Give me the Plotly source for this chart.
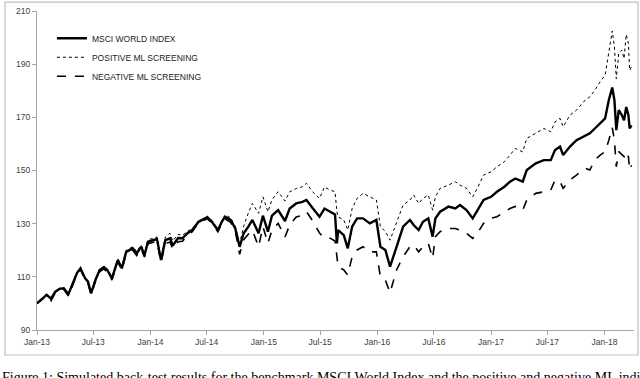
import plotly.graph_objects as go

dates = ["2013-01-01","2013-01-15","2013-02-01","2013-02-15","2013-03-01","2013-03-15","2013-03-28","2013-04-12","2013-04-26","2013-05-10","2013-05-21","2013-06-05","2013-06-14","2013-06-24","2013-07-08","2013-07-22","2013-08-05","2013-08-16","2013-08-30","2013-09-18","2013-10-01","2013-10-15","2013-11-05","2013-11-18","2013-12-02","2013-12-13","2013-12-24",
"2014-01-10","2014-01-22","2014-02-04","2014-02-18","2014-03-05","2014-03-14","2014-03-31","2014-04-14","2014-05-01","2014-05-15","2014-06-05","2014-06-20","2014-07-03","2014-07-17","2014-08-06","2014-08-20","2014-08-29","2014-09-16","2014-10-01","2014-10-15","2014-10-28","2014-11-12","2014-11-25","2014-12-15","2014-12-29",
"2015-01-14","2015-01-27","2015-02-16","2015-03-10","2015-03-25","2015-04-15","2015-05-05","2015-05-18","2015-06-08","2015-06-29","2015-07-15","2015-08-03","2015-08-18","2015-08-24","2015-08-28","2015-09-15","2015-09-28","2015-10-12","2015-10-28","2015-11-16","2015-12-08","2015-12-29",
"2016-01-11","2016-01-27","2016-02-11","2016-03-03","2016-03-24","2016-04-15","2016-04-27","2016-05-13","2016-05-27","2016-06-13","2016-06-27","2016-07-06","2016-07-21","2016-08-17","2016-09-08","2016-09-23","2016-10-14","2016-11-03","2016-11-18","2016-12-08",
"2017-01-01","2017-01-20","2017-02-13","2017-03-03","2017-03-20","2017-04-13","2017-04-26","2017-05-25","2017-06-20","2017-07-12","2017-07-26","2017-08-11","2017-08-21","2017-09-12","2017-10-03","2017-10-31","2017-11-15","2017-12-01","2017-12-18",
"2018-01-03","2018-01-15","2018-01-26","2018-02-02","2018-02-08","2018-02-16","2018-02-26","2018-03-05","2018-03-12","2018-03-19","2018-03-23","2018-03-29"]

msci_world = [100,101.5,103.2,101.8,104.4,105.5,105.7,103.5,107.5,111.5,113.2,109.4,108.2,103.8,108.8,112.6,113.6,112.4,109.4,116.3,113.2,119.4,120.7,118.8,121.3,118.2,123.2,
123.8,124.2,116.3,123.8,124.5,121.8,124.6,124.5,126.5,127.5,130.7,131.5,132.4,130.8,127.6,131.0,132.6,131.4,128.2,121.3,126.4,128.9,131.4,126.4,133.0,
127.0,133.0,135.1,131.0,135.7,137.6,138.2,138.9,135.7,132.6,135.7,134.5,133.5,122.6,127.6,125.7,120.7,128.9,132.0,132.0,130.1,131.4,
121.3,120.1,113.8,121.3,128.9,131.4,129.5,127.6,130.7,132.0,125.1,132.0,134.5,136.4,135.7,137.0,135.1,132.0,135.1,138.9,
140.1,142.0,143.9,145.8,147.0,145.8,150.2,152.7,153.9,153.9,157.7,159.0,155.8,159.0,161.4,163.3,164.0,165.8,167.7,
169.6,176.5,181.2,176.5,165.2,172.7,170.8,168.9,173.9,170.8,165.8,167.0]

positive_ml = [100,101.7,103.4,102.0,104.6,105.8,106.0,103.9,107.8,111.8,113.5,109.8,108.6,104.3,109.2,113.0,114.0,112.9,109.9,116.8,113.8,120.0,121.3,119.5,122.0,118.9,123.9,
124.5,125.0,117.2,125.0,126.4,123.5,126.0,125.6,127.2,128.0,131.1,131.8,132.8,131.3,128.0,131.6,133.3,132.2,129.0,122.5,129.0,134.0,137.6,133.9,140.1,
134.5,139.0,142.0,138.5,142.0,143.2,143.9,145.2,141.8,139.5,143.8,142.6,142.0,134.5,132.6,131.4,127.6,135.7,139.5,141.4,140.1,138.9,
128.9,127.0,123.8,130.1,137.0,138.9,140.8,137.6,139.5,140.8,135.1,140.1,143.3,144.5,145.8,144.5,143.3,140.1,143.3,148.3,
149.5,151.4,153.3,155.8,158.3,157.0,162.1,164.0,165.8,164.6,168.3,169.6,166.5,170.8,172.7,176.5,177.7,180.2,183.4,
185.8,194.1,202.5,196.5,184.5,194.1,195.3,192.1,201.2,197.8,187.7,189.0]

negative_ml = [100,101.2,102.8,101.0,104.0,105.0,105.3,102.8,107.0,111.0,112.7,108.8,107.6,103.2,108.3,112.0,113.0,111.5,108.8,115.7,112.5,118.8,120.0,118.0,120.5,117.4,122.5,
123.0,123.3,115.4,122.6,123.0,120.5,123.2,123.4,125.8,126.9,130.2,131.0,131.9,130.2,127.0,130.3,131.8,130.5,127.2,118.5,124.0,126.0,127.6,121.3,128.9,
122.6,127.6,130.1,125.0,129.5,132.5,133.2,134.5,130.9,126.5,124.5,124.5,123.5,116.3,113.8,112.6,110.7,117.6,120.1,121.3,119.4,119.4,
110.0,108.8,104.0,112.6,117.6,121.3,122.0,119.4,121.3,122.6,117.0,125.1,127.0,128.2,128.2,127.6,126.4,124.5,126.4,130.1,
132.0,132.6,134.5,135.7,136.5,135.1,138.9,141.4,142.0,142.6,146.4,145.8,143.3,146.4,148.3,150.8,150.2,153.9,155.8,
157.1,161.4,166.2,161.4,151.4,157.1,155.8,155.2,157.1,155.2,150.2,152.0]

series_names = ["MSCI WORLD INDEX", "POSITIVE ML SCREENING", "NEGATIVE ML SCREENING"]

x_tickvals = ["2013-01-01","2013-07-01","2014-01-01","2014-07-01","2015-01-01","2015-07-01",
              "2016-01-01","2016-07-01","2017-01-01","2017-07-01","2018-01-01"]
x_ticktext = ["Jan-13","Jul-13","Jan-14","Jul-14","Jan-15","Jul-15",
              "Jan-16","Jul-16","Jan-17","Jul-17","Jan-18"]
y_tickvals = [90, 110, 130, 150, 170, 190, 210]

fig = go.Figure()
fig.add_trace(go.Scatter(x=dates, y=msci_world, mode="lines", name=series_names[0],
                         line=dict(color="black", width=2.4)))
fig.add_trace(go.Scatter(x=dates, y=positive_ml, mode="lines", name=series_names[1],
                         line=dict(color="black", width=1, dash="dot")))
fig.add_trace(go.Scatter(x=dates, y=negative_ml, mode="lines", name=series_names[2],
                         line=dict(color="black", width=1.6, dash="dash")))

axis_font = dict(family="Liberation Sans, Arial, sans-serif", size=8.5, color="#404040")

fig.update_layout(
    template="none",
    width=640, height=378,
    margin=dict(l=37, r=6, t=11, b=48, autoexpand=False),
    paper_bgcolor="white", plot_bgcolor="white",
    showlegend=True,
    legend=dict(x=0.025, y=0.96, xanchor="left", yanchor="top",
                font=dict(family="Liberation Sans, Arial, sans-serif", size=8.5, color="#222222"),
                bgcolor="rgba(0,0,0,0)", itemwidth=30, tracegroupgap=0),
    xaxis=dict(range=["2013-01-01", "2018-04-06"], tickmode="array", automargin=False,
               tickvals=x_tickvals, ticktext=x_ticktext, showgrid=False,
               showline=True, linecolor="#a6a6a6", linewidth=1,
               ticks="outside", ticklen=4, tickcolor="#a6a6a6",
               tickfont=axis_font, zeroline=False),
    yaxis=dict(range=[90, 210], tickmode="array", tickvals=y_tickvals, showgrid=False,
               automargin=False,
               showline=True, linecolor="#a6a6a6", linewidth=1,
               ticks="outside", ticklen=4, tickcolor="#a6a6a6",
               tickfont=axis_font, zeroline=False),
    shapes=[dict(type="rect", xref="paper", yref="paper",
                 x0=-0.0536, x1=1.0067, y0=-0.0784, y1=1.028,
                 line=dict(color="#bfbfbf", width=1.2), fillcolor="rgba(0,0,0,0)", layer="below")],
    annotations=[dict(text="Figure 1: Simulated back-test results for the benchmark MSCI World Index and the positive and negative ML indication",
                      xref="paper", yref="paper", x=-0.062, y=-0.12,
                      xanchor="left", yanchor="top", showarrow=False,
                      font=dict(family="Liberation Serif, Times New Roman, serif", size=14, color="black"))]
)

fig.write_html("out.html", config={"displayModeBar": False},
               post_script="document.body.style.margin='0';document.body.style.overflow='hidden';")
